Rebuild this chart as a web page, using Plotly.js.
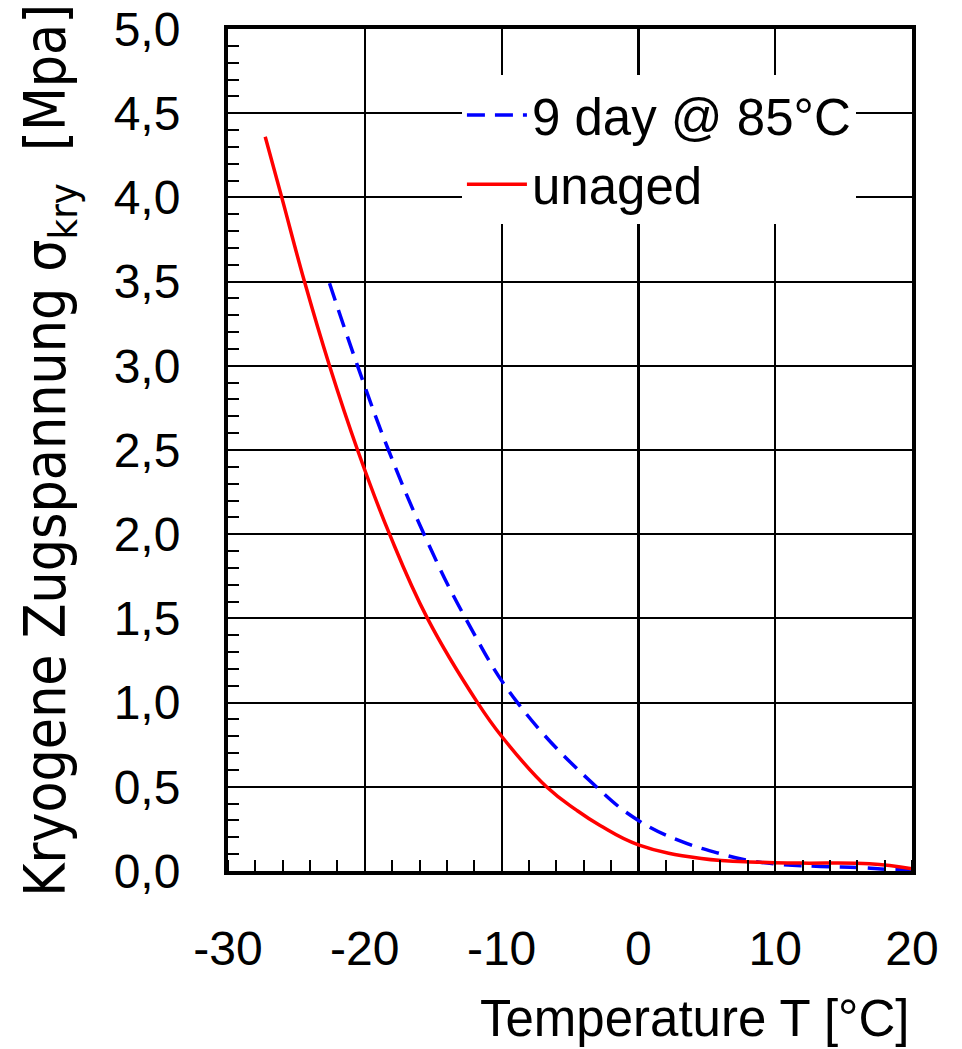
<!DOCTYPE html>
<html>
<head>
<meta charset="utf-8">
<script src="https://cdn.plot.ly/plotly-3.0.1.min.js"></script>
<style>
html,body{margin:0;padding:0;background:#fff;}
#chart{width:962px;height:1049px;}
</style>
</head>
<body>
<div id="chart"></div>
<script>
// Temperature [°C] and cryogenic tensile stress [MPa]
const unagedT = [-27.28, -26.07, -24.41, -22.58, -20.53, -18.19, -15.42, -11.76, -10.0, -6.72, -4.5, -2.8, 0.0, 4.6, 8.9, 11.8, 16.9, 20.0];
const unagedS = [4.36, 4.0, 3.5, 3.0, 2.5, 2.0, 1.5, 1.0, 0.80, 0.5, 0.36, 0.27, 0.155, 0.074, 0.052, 0.047, 0.043, 0.013];

const agedT = [-22.58, -20.53, -18.27, -15.67, -12.63, -8.84, -3.08, 0.0, 3.0, 5.9, 8.1, 10.3, 13.3, 16.2, 18.4, 20.0];
const agedS = [3.49, 3.0, 2.5, 2.0, 1.5, 1.0, 0.5, 0.30, 0.18, 0.105, 0.062, 0.04, 0.027, 0.02, 0.01, 0.01];

const xTickVals = [-30, -20, -10, 0, 10, 20];
const xTickText = ['-30', '-20', '-10', '0', '10', '20'];

const agedName = '9 day @ 85°C';
const unagedName = 'unaged';
const xTitle = 'Temperature T [°C]';
const yTitle = 'Kryogene Zugspannung σ<sub>kry</sub>  [Mpa]';

const traces = [
  {x: agedT, y: agedS, name: agedName, mode: 'lines',
   line: {color: '#0000ff', width: 3.5, dash: '18px,10px', shape: 'spline', smoothing: 1.2}},
  {x: unagedT, y: unagedS, name: unagedName, mode: 'lines',
   line: {color: '#ff0000', width: 3.5, shape: 'spline', smoothing: 1.2}}
];

const axisCommon = {
  showline: true, linecolor: '#000', linewidth: 4, mirror: true,
  showgrid: true, gridcolor: '#000', gridwidth: 2,
  ticks: '', tickfont: {family: 'Liberation Sans, Arial, sans-serif', size: 48, color: '#000'}
};

const layout = {
  width: 962, height: 1049,
  margin: {l: 228, r: 50, t: 29, b: 178},
  paper_bgcolor: '#fff', plot_bgcolor: '#fff',
  separators: ', ',
  showlegend: true,
  legend: {
    x: 0.342, y: 0.945, xanchor: 'left', yanchor: 'top',
    bgcolor: '#fff', borderwidth: 0,
    font: {family: 'Liberation Sans, Arial, sans-serif', size: 51, color: '#000'},
    itemwidth: 60, tracegroupgap: 0
  },
  xaxis: Object.assign({}, axisCommon, {
    range: [-30, 20], tickmode: 'array', tickvals: xTickVals, ticktext: xTickText,
    zeroline: true, zerolinecolor: '#000', zerolinewidth: 3,
    ticklabelstandoff: 32,
    minor: {dtick: 2, tick0: -30, ticks: 'inside', ticklen: 11, tickwidth: 2, tickcolor: '#000', showgrid: false}
  }),
  yaxis: Object.assign({}, axisCommon, {
    range: [0, 5], dtick: 0.5, tick0: 0, tickformat: '.1f',
    zeroline: false,
    ticklabelstandoff: 34,
    minor: {dtick: 0.1, ticks: 'inside', ticklen: 11, tickwidth: 2, tickcolor: '#000', showgrid: false}
  }),
  annotations: [
    {text: xTitle, xref: 'paper', yref: 'paper', x: 1, y: 0, xanchor: 'right', yanchor: 'middle',
     yshift: -147, showarrow: false,
     font: {family: 'Liberation Sans, Arial, sans-serif', size: 51, color: '#000'}},
    {text: yTitle, xref: 'paper', yref: 'paper', x: -0.262, y: 0.5, xanchor: 'center', yanchor: 'middle',
     textangle: -90, showarrow: false,
     font: {family: 'DejaVu Sans Condensed, sans-serif', size: 56.5, color: '#000'}}
  ]
};

Plotly.newPlot('chart', traces, layout, {displayModeBar: false, staticPlot: true});
</script>
</body>
</html>
